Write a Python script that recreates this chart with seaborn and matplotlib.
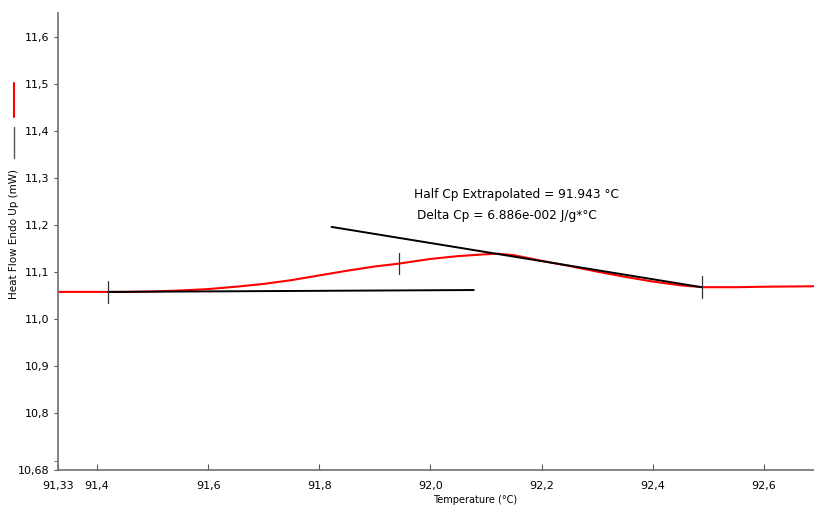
import pandas as pd
import numpy as np
import matplotlib
matplotlib.use("Agg")
import matplotlib.pyplot as plt
import seaborn as sns
from matplotlib.lines import Line2D
from matplotlib.ticker import FuncFormatter

# heat flow curve (red)
temp = [91.33, 91.40, 91.45, 91.50, 91.55, 91.60, 91.65, 91.70, 91.75, 91.80,
        91.85, 91.90, 91.943, 92.00, 92.05, 92.10, 92.12, 92.15, 92.20, 92.25,
        92.30, 92.35, 92.40, 92.45, 92.49, 92.55, 92.60, 92.69]
heat_flow = [11.058, 11.058, 11.058, 11.059, 11.061, 11.064, 11.069, 11.075, 11.083, 11.093,
             11.103, 11.112, 11.118, 11.128, 11.134, 11.138, 11.139, 11.136, 11.124, 11.113,
             11.101, 11.090, 11.080, 11.072, 11.068, 11.068, 11.069, 11.070]

# onset baseline and end tangent (black)
base_t = [91.42, 92.078]
base_hf = [11.058, 11.062]
tang_t = [91.822, 92.488]
tang_hf = [11.196, 11.068]

# vertical markers
mark_t = [91.42, 91.943, 92.488]
mark_hf = [11.058, 11.118, 11.069]

xticks = [91.33, 91.4, 91.6, 91.8, 92.0, 92.2, 92.4, 92.6]
yticks = [10.68, 10.8, 10.9, 11.0, 11.1, 11.2, 11.3, 11.4, 11.5, 11.6]

sns.set_style("ticks")
plt.rcParams['font.family'] = ['DejaVu Sans']
plt.rcParams['text.color'] = 'black'

fig = plt.figure(figsize=(8.14, 5.07), dpi=100)
ax = fig.add_axes([58/814, 1 - 470/507, 1 - 58/814, (470 - 13)/507])

df = pd.DataFrame({'T': temp, 'HF': heat_flow})
sns.lineplot(data=df, x='T', y='HF', color='#ff0000', lw=1.5, ax=ax)
sns.lineplot(x=base_t, y=base_hf, color='black', lw=1.4, ax=ax)
sns.lineplot(x=tang_t, y=tang_hf, color='black', lw=1.4, ax=ax)
for t, h in zip(mark_t, mark_hf):
    ax.plot([t, t], [h - 0.023, h + 0.023], color='#333333', lw=0.9)

ax.text(91.97, 11.264, 'Half Cp Extrapolated = 91.943 °C', fontsize=8.7, va='center', color='black')
ax.text(91.975, 11.221, 'Delta Cp = 6.886e-002 J/g*°C', fontsize=8.7, va='center', color='black')

ax.set_xlim(91.33, 92.69)
ax.set_ylim(10.68, 11.65)
fmt_x = FuncFormatter(lambda v, p: ('%.2f' % v if abs(v - 91.33) < 1e-6 else '%.1f' % v).replace('.', ','))
fmt_y = FuncFormatter(lambda v, p: ('%.2f' % v if abs(v - 10.68) < 1e-6 else '%.1f' % v).replace('.', ','))
ax.set_xticks(xticks)
ax.set_yticks(yticks)
ax.set_yticks([10.7], minor=True)
ax.xaxis.set_major_formatter(fmt_x)
ax.yaxis.set_major_formatter(fmt_y)
ax.tick_params(axis='x', direction='in', length=4, pad=8, labelsize=8, color='#555555', labelcolor='black')
ax.tick_params(axis='y', direction='out', length=3, pad=3, labelsize=8, color='#555555', labelcolor='black')
ax.tick_params(axis='y', which='minor', direction='out', length=3, color='#555555')

sns.despine(ax=ax)
for s in ['left', 'bottom']:
    ax.spines[s].set_color('#707070')
    ax.spines[s].set_linewidth(1.2)

ax.set_xlabel('')
ax.set_ylabel('')
fig.text(475/814, 1 - 500/507, 'Temperature (°C)', fontsize=7, ha='center', va='center')
fig.text(14/814, 1 - 234/507, 'Heat Flow Endo Up (mW)', fontsize=7.5, rotation=90,
         ha='center', va='center')
fig.add_artist(Line2D([14/814, 14/814], [1 - 83/507, 1 - 117/507], color='#ff0000', lw=1.5))
fig.add_artist(Line2D([14/814, 14/814], [1 - 127/507, 1 - 158/507], color='#555555', lw=1.0))

fig.savefig('out.png', dpi=100)
